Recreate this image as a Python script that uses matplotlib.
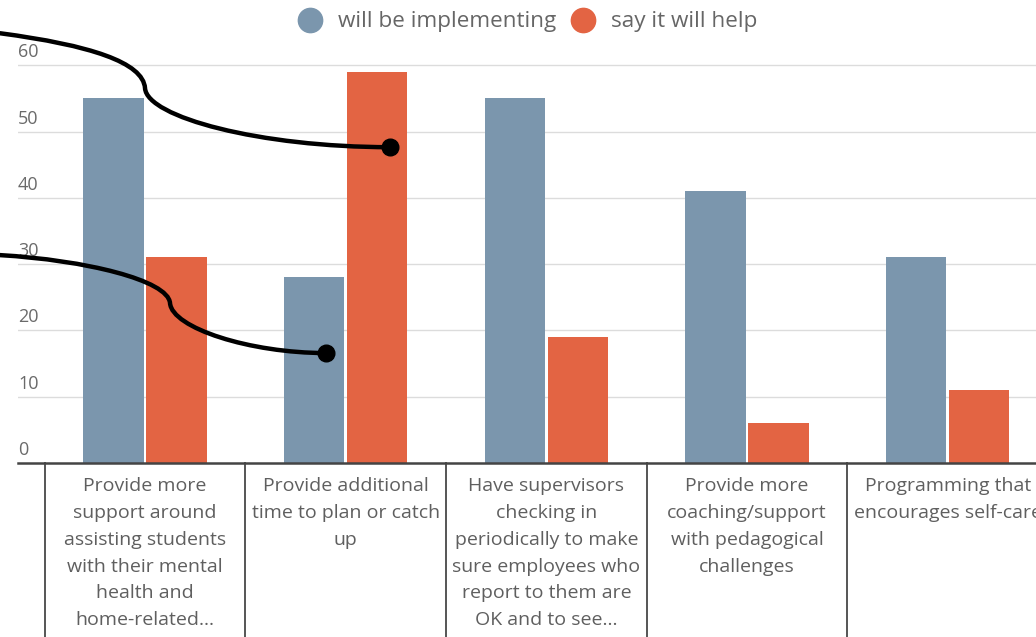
import matplotlib.pyplot as plt
import numpy as np
from matplotlib.path import Path
from matplotlib.patches import PathPatch
from matplotlib.lines import Line2D
import matplotlib.transforms as mtransforms

plt.rcParams['font.family'] = ['Open Sans', 'DejaVu Sans']

categories = [
    "Provide more\nsupport around\nassisting students\nwith their mental\nhealth and\nhome-related...",
    "Provide additional\ntime to plan or catch\nup",
    "Have supervisors\nchecking in\nperiodically to make\nsure employees who\nreport to them are\nOK and to see...",
    "Provide more\ncoaching/support\nwith pedagogical\nchallenges",
    "Programming that\nencourages self-care",
]
implementing = [55, 28, 55, 41, 31]
will_help = [31, 59, 19, 6, 11]
yticks = [0, 10, 20, 30, 40, 50, 60]

blue = '#7b96ad'
orange = '#e36443'
text_gray = '#5f5f5f'

fig = plt.figure(figsize=(10.36, 6.37), dpi=100)
W, H = 1036, 637
# axes: left 18px, right 1036px, baseline at y=463px, top at 50px
ax = fig.add_axes([18 / W, 1 - 463 / H, 1 - 18 / W, (463 - 50) / H])

x = np.arange(len(categories))
bw = 0.3
ax.bar(x - 0.157, implementing, bw, color=blue, zorder=2)
ax.bar(x + 0.157, will_help, bw, color=orange, zorder=2)

ax.set_xlim(-0.633, 4.44)
ax.set_ylim(0, 62.3)

for v in yticks[1:]:
    ax.axhline(v, color='#dcdcdc', lw=1, zorder=1)
for v in yticks:
    ax.text(0.0, v + 0.6, str(v), transform=ax.get_yaxis_transform(),
            ha='left', va='bottom', fontsize=13, color='#6a6a6a')

for s in ['top', 'right', 'left']:
    ax.spines[s].set_visible(False)
ax.spines['bottom'].set_color('#444444')
ax.spines['bottom'].set_linewidth(1.8)
ax.set_xticks([])
ax.set_yticks([])

# category separators below the axis
trans = mtransforms.blended_transform_factory(ax.transData, ax.transAxes)
for b in np.arange(len(categories) + 1) - 0.5:
    ax.plot([b, b], [0, -0.5], color='#555555', lw=1.4, transform=trans,
            clip_on=False)

for i, lab in enumerate(categories):
    ax.text(i, -0.033, lab, transform=trans, ha='center', va='top',
            fontsize=14, color=text_gray, linespacing=1.64)

# annotation connectors (data coords)
def connector(pts):
    codes = [Path.MOVETO] + [Path.CURVE4] * (len(pts) - 1)
    ax.add_patch(PathPatch(Path(pts, codes), fill=False, lw=3.2,
                           edgecolor='black', clip_on=False, zorder=5,
                           capstyle='round'))
    ax.plot(*pts[-1], 'o', color='black', ms=12, zorder=6, clip_on=False)

def px(xp, yp):
    return ((xp - 145) / 200.7, (463 - yp) / 6.633)

connector([px(0, 33), px(90, 45), px(143, 62), px(145, 88),
           px(147, 117), px(260, 147), px(390, 147)])
connector([px(0, 255), px(85, 260), px(168, 280), px(170, 303),
           px(172, 328), px(250, 353), px(326, 353)])

handles = [Line2D([], [], marker='o', ls='', color=blue, ms=17.5),
           Line2D([], [], marker='o', ls='', color=orange, ms=17.5)]
leg = fig.legend(handles, ['will be implementing', 'say it will help'],
                 loc='center', bbox_to_anchor=(527 / W, 1 - 22 / H), ncol=2,
                 frameon=False, fontsize=16.2, handletextpad=0.65,
                 columnspacing=0.6, handlelength=1.2)
for t in leg.get_texts():
    t.set_color('#666666')

fig.savefig('out.png', dpi=100)
